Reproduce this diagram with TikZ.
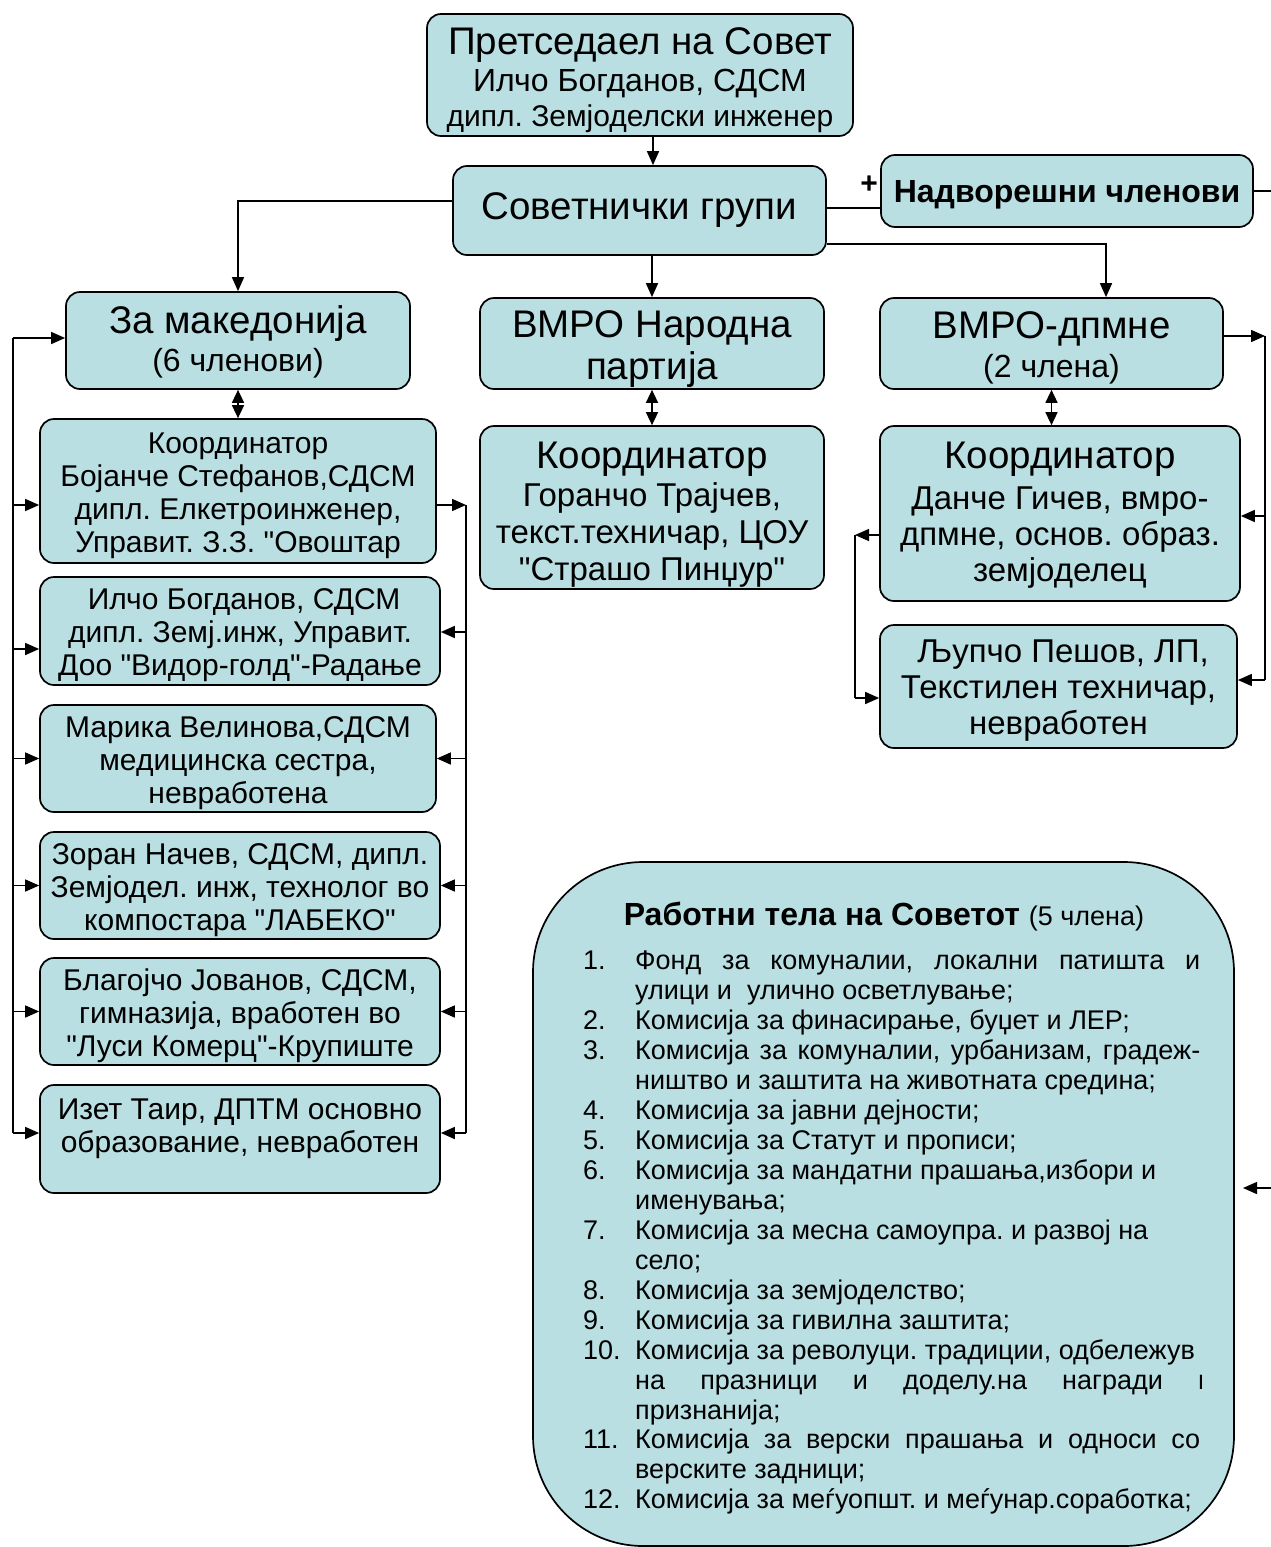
\documentclass[tikz,border=0pt]{standalone}
\usepackage{fontspec}
\setmainfont{Liberation Sans}[Ligatures=TeXOff]
\usetikzlibrary{arrows.meta}
\definecolor{boxfill}{RGB}{185,223,227}
\frenchspacing
\newcommand\FBig{\fontsize{38.5}{43}\selectfont}
\newcommand\FMid{\fontsize{33}{37}\selectfont}
\newcommand\FSm{\fontsize{30}{33}\selectfont}
\newcommand\LF{\fontsize{27}{30}\selectfont}
\begin{document}
\begin{tikzpicture}[x=1pt,y=-1pt,
  box/.style={draw=black, line width=1.7pt, fill=boxfill, rounded corners=14pt, inner sep=0pt},
  txt/.style={align=center, inner sep=0pt},
  conn/.style={line width=1.5pt},
  arr/.style={conn, -{Triangle[length=14pt,width=12pt]}},
  darr/.style={conn, {Triangle[length=13pt,width=12pt]}-{Triangle[length=13pt,width=12pt]}},
  lnum/.style={anchor=base west, inner sep=0pt, font=\LF},
  ltxt/.style={anchor=base west, inner sep=0pt, font=\LF},
]
\useasboundingbox (0,0) rectangle (1271,1547);

% ---- boxes ----
\node[box, minimum width=426pt, minimum height=122pt] (pr) at (640,75) {};
\node[txt, font=\fontsize{31}{35}\selectfont] (prt) at ([yshift=-5pt]pr.center)
  {{\FBig Претседаел на Совет}\\[2pt]{\fontsize{32}{36}\selectfont Илчо Богданов, СДСМ}\\{\fontsize{30}{33}\selectfont дипл. Земјоделски инженер}};
\node[box, minimum width=373pt, minimum height=89pt] (sg) at (639.5,210.5) {};
\node[txt, font=\FBig] (sgt) at (sg.center) {Советнички групи};
\node[box, minimum width=372pt, minimum height=72pt] (nv) at (1067,191) {};
\node[txt, font=\fontsize{32}{36}\selectfont\bfseries] (nvt) at ([yshift=-4pt]nv.center) {Надворешни членови};
\node[font=\fontsize{30}{34}\selectfont\bfseries, inner sep=0pt] (plus) at (869,185) {+};

\node[box, minimum width=344pt, minimum height=97pt] (zm) at (238,340.5) {};
\node[txt, font=\fontsize{32}{38}\selectfont] (zmt) at ([yshift=-1pt]zm.center)
  {{\FBig За македонија}\\(6 членови)};
\node[box, minimum width=344pt, minimum height=91pt] (vn) at (652,343.5) {};
\node[txt, font=\fontsize{38.5}{42}\selectfont] (vnt) at ([yshift=-6pt]vn.center) {ВМРО Народна\\партија};
\node[box, minimum width=343pt, minimum height=91pt] (vd) at (1051.5,343.5) {};
\node[txt, font=\fontsize{32}{39}\selectfont] (vdt) at ([yshift=-4pt]vd.center)
  {{\FBig ВМРО-дпмне}\\(2 члена)};

\node[box, minimum width=396pt, minimum height=144pt] (k1) at (238,491) {};
\node[txt, font=\FSm] (k1t) at ([yshift=-5pt]k1.center)
  {Координатор\\Бојанче Стефанов,СДСМ\\дипл. Елкетроинженер,\\Управит. З.З. "Овоштар};
\node[box, minimum width=400pt, minimum height=108pt] (b2) at (240,631) {};
\node[txt, font=\FSm] (b2t) at ([yshift=-4pt]b2.center)
  {\ Илчо Богданов, СДСМ\\дипл. Земј.инж, Управит.\\Доо "Видор-голд"-Радање};
\node[box, minimum width=396pt, minimum height=107pt] (b3) at (238,758.5) {};
\node[txt, font=\FSm] (b3t) at ([yshift=-5pt]b3.center)
  {Марика Велинова,СДСМ\\медицинска сестра,\\невработена};
\node[box, minimum width=400pt, minimum height=107pt] (b4) at (240,885.5) {};
\node[txt, font=\FSm] (b4t) at ([yshift=-4.5pt]b4.center)
  {Зоран Начев, СДСМ, дипл.\\Земјодел. инж, технолог во\\компостара "ЛАБЕКО"};
\node[box, minimum width=400pt, minimum height=107pt] (b5) at (240,1011.5) {};
\node[txt, font=\FSm] (b5t) at ([yshift=-4pt]b5.center)
  {Благојчо Јованов, СДСМ,\\гимназија, вработен во\\"Луси Комерц"-Крупиште};
\node[box, minimum width=400pt, minimum height=108pt] (b6) at (240,1139) {};
\node[txt, font=\FSm] (b6t) at ([yshift=-3pt]b6.center)
  {Изет Таир, ДПТМ основно\\образование, невработен\\\mbox{}};

\node[box, minimum width=344pt, minimum height=163pt] (cm) at (652,507.5) {};
\node[txt, font=\FMid] (cmt) at ([yshift=-7pt]cm.center)
  {{\FBig Координатор}\\[1pt]Горанчо Трајчев,\\текст.техничар, ЦОУ\\"Страшо Пинџур"};
\node[box, minimum width=360pt, minimum height=175pt] (cr) at (1060,513.5) {};
\node[txt, font=\fontsize{33}{36}\selectfont] (crt) at ([yshift=-2pt]cr.center)
  {{\FBig Координатор}\\[5pt]Данче Гичев, вмро-\\дпмне, основ. образ.\\земјоделец};
\node[box, minimum width=357pt, minimum height=123pt] (lp) at (1058.5,686.5) {};
\node[txt, font=\fontsize{33}{36}\selectfont] (lpt) at ([yshift=-4pt]lp.center)
  {\ Љупчо Пешов, ЛП,\\Текстилен техничар,\\невработен};

% ---- bottom box ----
\node[box, rounded corners=110pt, minimum width=701pt, minimum height=684pt] (bt) at (883.5,1204) {};
\node[inner sep=0pt, anchor=base] (btt) at (884,925)
  {\fontsize{32}{36}\selectfont\textbf{Работни тела на Советот} {\LF(5 члена)}};
\begin{scope}
\clip (533,862) rectangle (1201,1547);
\node[lnum] (n1) at (583,969) {1.};
\node[ltxt] (t1a) at (635,969) {\makebox[565pt][s]{Фонд за комуналии, локални патишта и}};
\node[ltxt] (t1b) at (635,999) {улици и \ улично осветлување;};
\node[lnum] (n2) at (583,1029) {2.};
\node[ltxt] (t2) at (635,1029) {Комисија за финасирање, буџет и ЛЕР;};
\node[lnum] (n3) at (583,1059) {3.};
\node[ltxt] (t3a) at (635,1059) {\makebox[565pt][s]{Комисија за комуналии, урбанизам, градеж-}};
\node[ltxt] (t3b) at (635,1089) {ништво и заштита на животната средина;};
\node[lnum] (n4) at (583,1119) {4.};
\node[ltxt] (t4) at (635,1119) {Комисија за јавни дејности;};
\node[lnum] (n5) at (583,1149) {5.};
\node[ltxt] (t5) at (635,1149) {Комисија за Статут и прописи;};
\node[lnum] (n6) at (583,1179) {6.};
\node[ltxt] (t6a) at (635,1179) {Комисија за мандатни прашања,избори и};
\node[ltxt] (t6b) at (635,1209) {именувања;};
\node[lnum] (n7) at (583,1239) {7.};
\node[ltxt] (t7a) at (635,1239) {Комисија за месна самоупра. и развој на};
\node[ltxt] (t7b) at (635,1269) {село;};
\node[lnum] (n8) at (583,1299) {8.};
\node[ltxt] (t8) at (635,1299) {Комисија за земјоделство;};
\node[lnum] (n9) at (583,1329) {9.};
\node[ltxt] (t9) at (635,1329) {Комисија за гивилна заштита;};
\node[lnum] (n10) at (583,1359) {10.};
\node[ltxt] (t10a) at (635,1359) {Комисија за револуци. традиции, одбележув};
\node[ltxt] (t10b) at (635,1389) {\makebox[578pt][s]{на празници и доделу.на награди и}};
\node[ltxt] (t10c) at (635,1419) {признанија;};
\node[lnum] (n11) at (583,1448) {11.};
\node[ltxt] (t11a) at (635,1448) {\makebox[565pt][s]{Комисија за верски прашања и односи со}};
\node[ltxt] (t11b) at (635,1478) {верските задници;};
\node[lnum] (n12) at (583,1508) {12.};
\node[ltxt] (t12) at (635,1508) {Комисија за меѓуопшт. и меѓунар.соработка;};
\end{scope}

% ---- rail coordinates ----
\coordinate (S1) at (238,201);
\coordinate (S2) at (860,208);
\coordinate (S3) at (1106,244);
\coordinate (X) at (653,0);
\coordinate (E1) at (1271,192);
\coordinate (E2) at (1271,1188);
\coordinate (E3) at (1243,1188);
\coordinate (L0) at (13,338);
\coordinate (L1) at (13,505);
\coordinate (L2) at (13,649);
\coordinate (L6) at (13,1133);
\coordinate (R1) at (466,505);
\coordinate (R2) at (466,632);
\coordinate (R6) at (466,1133);
\coordinate (Q1) at (1265,336);
\coordinate (Q2) at (1265,516);
\coordinate (Q3) at (1265,680);
\coordinate (P1) at (855,535);
\coordinate (P2) at (855,698);

% ---- connectors ----
\draw[arr] (X |- pr.south) -- (X |- sg.north);
\draw[arr] (vn.north |- sg.south) -- (vn.north);
\draw[arr] (S1 -| sg.west) -- (S1) -- (zm.north);
\draw[conn] (S2 -| sg.east) -- (S2 -| nv.west);
\draw[arr] (S3 -| sg.east) -- (S3) -- (S3 |- vd.north);
\draw[conn] (nv.east) -- (nv.east -| E1);
\draw[arr] (E2) -- (E3);

\draw[darr] (zm.south) -- (k1.north);
\draw[darr] (vn.south) -- (cm.north);
\draw[darr] (vd.south) -- (vd.south |- cr.north);

% left rail
\draw[conn] (L0) -- (L6);
\draw[arr] (L0) -- (L0 -| zm.west);
\draw[arr] (L1) -- (L1 -| k1.west);
\draw[arr] (L2) -- (L2 -| b2.west);
\draw[arr] (b3.west -| L0) -- (b3.west);
\draw[arr] (b4.west -| L0) -- (b4.west);
\draw[arr] (b5.west -| L0) -- (b5.west);
\draw[arr] (L6) -- (L6 -| b6.west);

% right rail of left column
\draw[arr] (R1 -| k1.east) -- (R1);
\draw[conn] (R1) -- (R6);
\draw[arr] (R2) -- (R2 -| b2.east);
\draw[arr] (b3.east -| R1) -- (b3.east);
\draw[arr] (b4.east -| R1) -- (b4.east);
\draw[arr] (b5.east -| R1) -- (b5.east);
\draw[arr] (R6) -- (R6 -| b6.east);

% right group
\draw[arr] (Q1 -| vd.east) -- (Q1);
\draw[conn] (Q1) -- (Q3);
\draw[arr] (Q2) -- (Q2 -| cr.east);
\draw[arr] (Q3) -- (Q3 -| lp.east);
\draw[arr] (P1 -| cr.west) -- (P1);
\draw[conn] (P1) -- (P2);
\draw[arr] (P2) -- (P2 -| lp.west);
\end{tikzpicture}
\end{document}
